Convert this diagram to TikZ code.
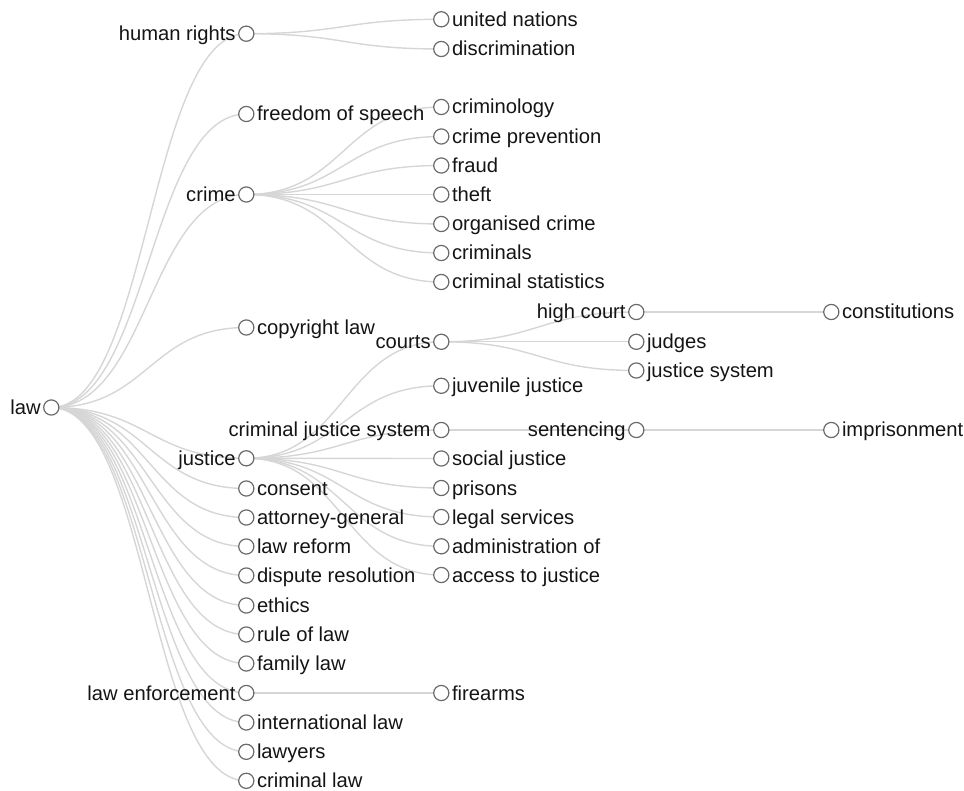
\documentclass[tikz,border=0pt]{standalone}
\usepackage{fontspec}
\setmainfont{Liberation Sans}
\usetikzlibrary{calc,backgrounds}
\definecolor{dotgray}{HTML}{6A6A6A}
\definecolor{linkgray}{HTML}{D6D6D6}
\tikzset{
  dot/.style={circle,draw=dotgray,fill=white,line width=1.2pt,minimum size=15.2pt,inner sep=0pt},
  lbl/.style={inner sep=0pt,font=\fontsize{20.2}{24}\selectfont,text=black!92},
  link/.style={draw=linkgray,line width=1.4pt}
}
\newcommand\leafN[4]{\node[dot] (#1) at (#2,#3) {};
  \node[lbl,anchor=base west] (#1t) at (#2+10.5,#3+7) {#4};}
\newcommand\parN[4]{\node[dot] (#1) at (#2,#3) {};
  \node[lbl,anchor=base east] (#1t) at (#2-10.5,#3+7) {#4};}
\newcommand\lnk[2]{\draw[link] let \p1=(#1.center), \p2=(#2.center) in
  (\p1) .. controls ({0.5*\x1+0.5*\x2},\y1) and ({0.5*\x1+0.5*\x2},\y2) .. (\p2);}
\begin{document}
\begin{tikzpicture}[x=1pt,y=-1pt]
\useasboundingbox (0,0) rectangle (964,791);
\def\A{51.3}\def\B{246.3}\def\C{441.3}\def\D{636.3}\def\E{831.3}
\parN{law}{\A}{407.5}{law}
\parN{hr}{\B}{33.7}{human rights}
\leafN{un}{\C}{19.3}{united nations}
\leafN{disc}{\C}{49}{discrimination}
\leafN{fos}{\B}{114}{freedom of speech}
\parN{crime}{\B}{194.5}{crime}
\leafN{cgy}{\C}{107}{criminology}
\leafN{cprev}{\C}{136.5}{crime prevention}
\leafN{fraud}{\C}{165.5}{fraud}
\leafN{theft}{\C}{194.5}{theft}
\leafN{org}{\C}{224}{organised crime}
\leafN{cnals}{\C}{253}{criminals}
\leafN{cstat}{\C}{282}{criminal statistics}
\leafN{copy}{\B}{327.5}{copyright law}
\parN{courts}{\C}{341.8}{courts}
\parN{hc}{\D}{312}{high court}
\leafN{const}{\E}{312}{constitutions}
\leafN{judges}{\D}{341.8}{judges}
\leafN{jsys}{\D}{370.5}{justice system}
\leafN{juv}{\C}{385.8}{juvenile justice}
\parN{cjs}{\C}{430}{criminal justice system}
\parN{sent}{\D}{430}{sentencing}
\leafN{impr}{\E}{430}{imprisonment}
\parN{justice}{\B}{458.3}{justice}
\leafN{socj}{\C}{458.5}{social justice}
\leafN{consent}{\B}{488.5}{consent}
\leafN{prisons}{\C}{488}{prisons}
\leafN{ag}{\B}{517.5}{attorney-general}
\leafN{legal}{\C}{517}{legal services}
\leafN{lref}{\B}{546.5}{law reform}
\leafN{admin}{\C}{546.3}{administration of}
\leafN{dispute}{\B}{575.5}{dispute resolution}
\leafN{access}{\C}{575}{access to justice}
\leafN{ethics}{\B}{605.5}{ethics}
\leafN{rol}{\B}{634.5}{rule of law}
\leafN{fam}{\B}{663.5}{family law}
\parN{le}{\B}{693}{law enforcement}
\leafN{fire}{\C}{693}{firearms}
\leafN{intl}{\B}{722.5}{international law}
\leafN{lawyers}{\B}{751.8}{lawyers}
\leafN{crlaw}{\B}{780.8}{criminal law}
\begin{scope}[on background layer]
\foreach \a/\b in {law/hr,law/fos,law/crime,law/copy,law/justice,law/consent,law/ag,law/lref,
  law/dispute,law/ethics,law/rol,law/fam,law/le,law/intl,law/lawyers,law/crlaw,
  hr/un,hr/disc,
  crime/cgy,crime/cprev,crime/fraud,crime/theft,crime/org,crime/cnals,crime/cstat,
  justice/courts,justice/juv,justice/cjs,justice/socj,justice/prisons,justice/legal,justice/admin,justice/access,
  le/fire,courts/hc,courts/judges,courts/jsys,cjs/sent,hc/const,sent/impr}
  {\lnk{\a}{\b}}
\end{scope}
\end{tikzpicture}
\end{document}
